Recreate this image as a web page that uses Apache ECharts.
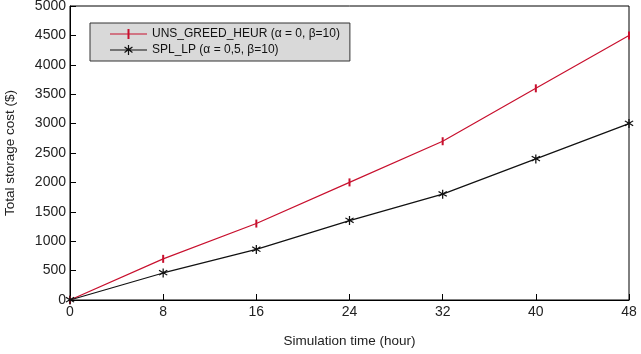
<!DOCTYPE html>
<html>
<head>
<meta charset="utf-8">
<script src="https://cdn.jsdelivr.net/npm/echarts@6/dist/echarts.min.js"></script>
<style>
html, body { margin: 0; padding: 0; background: #fff; }
#main { width: 641px; height: 354px; }
</style>
</head>
<body>
<div id="main"></div>
<script>
var myChart = echarts.init(document.getElementById('main'), null, {renderer: 'canvas'});

// data
var hours = [0, 8, 16, 24, 32, 40, 48];
var unsGreed = [0, 700, 1300, 2000, 2700, 3600, 4500];
var splLp = [0, 460, 860, 1350, 1800, 2400, 3000];
var seriesNames = ['UNS_GREED_HEUR (α = 0, β=10)', 'SPL_LP (α = 0,5, β=10)'];

var fontName = 'Liberation Sans';

// error bar glyph (thin vertical bar) and asterisk glyph
var barPath = 'path://M0,0 L2,0 L2,10 L0,10 Z';
var starPath = 'path://M4.4,0 L5.6,0 L5.6,3.6 L8.6,1.5 L9.3,2.5 L6.2,4.7 L9.3,6.9 L8.6,7.9 L5.6,5.8 L5.6,10 L4.4,10 L4.4,5.8 L1.4,7.9 L0.7,6.9 L3.8,4.7 L0.7,2.5 L1.4,1.5 L4.4,3.6 Z';

// legend icons: short line with the marker in the middle (37 x 10 box)
var redIcon = 'path://M0,4.4 L37,4.4 L37,5.6 L0,5.6 Z M17.5,0 L19.5,0 L19.5,10 L17.5,10 Z';
var blackIcon = 'path://M0,4.4 L37,4.4 L37,5.6 L0,5.6 Z ' +
    'M17.9,0 L19.1,0 L19.1,3.6 L22.1,1.5 L22.8,2.5 L19.7,4.7 L22.8,6.9 L22.1,7.9 L19.1,5.8 L19.1,10 L17.9,10 L17.9,5.8 L14.9,7.9 L14.2,6.9 L17.3,4.7 L14.2,2.5 L14.9,1.5 L17.9,3.6 Z';

function pairs(ys) {
    return hours.map(function (h, i) { return [h, ys[i]]; });
}

var option = {
    animation: false,
    backgroundColor: '#fff',
    textStyle: { fontFamily: fontName },
    grid: {
        left: 70, right: 12, top: 6, bottom: 54,
        outerBoundsMode: 'none',
        show: true, borderColor: '#000', borderWidth: 1
    },
    legend: {
        left: 90, top: 23,
        orient: 'vertical',
        backgroundColor: '#d9d9d9',
        borderColor: '#333',
        borderWidth: 1,
        borderRadius: 0,
        padding: [5, 10, 5, 20],
        itemGap: 4,
        itemWidth: 37,
        itemHeight: 10,
        textStyle: { fontFamily: fontName, fontSize: 12, color: '#111' },
        data: [
            { name: seriesNames[0], icon: redIcon },
            { name: seriesNames[1], icon: blackIcon }
        ]
    },
    xAxis: {
        type: 'value',
        min: 0, max: 48, interval: 8,
        name: 'Simulation time (hour)',
        nameLocation: 'middle',
        nameGap: 34,
        nameTextStyle: { fontFamily: fontName, fontSize: 13.5, color: '#222' },
        axisLine: { lineStyle: { color: '#000' } },
        axisTick: { inside: true, length: 6, lineStyle: { color: '#000' } },
        axisLabel: { fontFamily: fontName, fontSize: 14, color: '#222', margin: 5 },
        splitLine: { show: false }
    },
    yAxis: {
        type: 'value',
        min: 0, max: 5000, interval: 500,
        name: 'Total storage cost ($)',
        nameLocation: 'middle',
        nameGap: 53,
        nameTextStyle: { fontFamily: fontName, fontSize: 13.5, color: '#222' },
        axisLine: { show: true, lineStyle: { color: '#000' } },
        axisTick: { show: true, inside: true, length: 6, lineStyle: { color: '#000' } },
        axisLabel: {
            fontFamily: fontName, fontSize: 14, color: '#222', margin: 4,
            formatter: function (v) { return String(v); }
        },
        splitLine: { show: false }
    },
    series: [
        {
            name: seriesNames[0],
            type: 'line',
            data: pairs(unsGreed),
            color: '#c8102e',
            lineStyle: { width: 1.2, color: '#c8102e' },
            symbol: barPath,
            symbolSize: [2, 8],
            showAllSymbol: true,
            itemStyle: { color: '#c8102e' },
            z: 3
        },
        {
            name: seriesNames[1],
            type: 'line',
            data: pairs(splLp),
            color: '#111',
            lineStyle: { width: 1.2, color: '#111' },
            symbol: starPath,
            symbolSize: 9,
            showAllSymbol: true,
            itemStyle: { color: '#111' },
            z: 4
        }
    ]
};

myChart.setOption(option);
</script>
</body>
</html>
